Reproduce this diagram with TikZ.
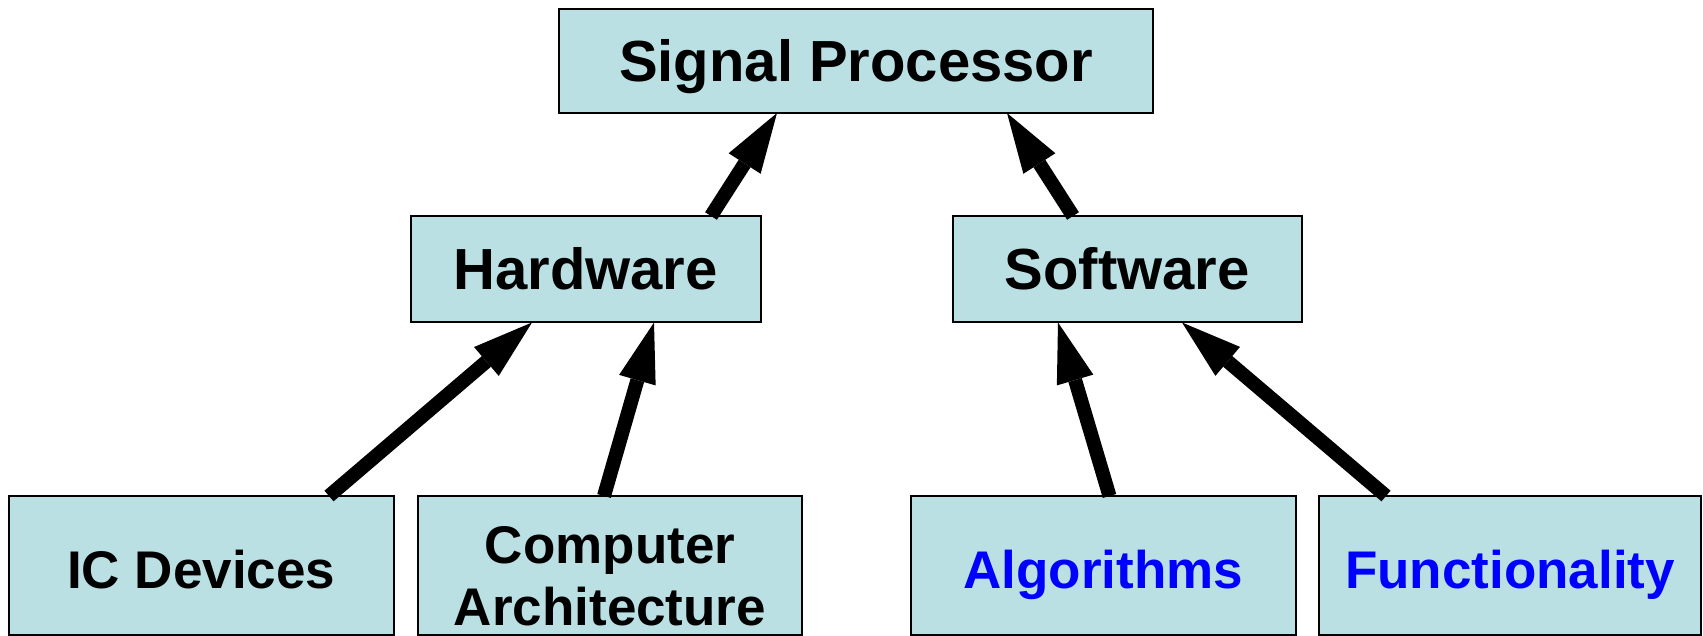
\documentclass[tikz,border=0pt]{standalone}
\usepackage{fontspec}
\setmainfont{Liberation Sans}
\usetikzlibrary{arrows.meta}
\definecolor{boxfill}{RGB}{187,224,227}
\definecolor{linkblue}{RGB}{0,0,255}

\begin{document}
\begin{tikzpicture}[x=1pt,y=-1pt,
  box/.style={draw=black, line width=2pt, fill=boxfill, inner sep=0pt, outer sep=0pt},
  upper/.style={box, font=\fontsize{58}{62}\selectfont\bfseries,
    text height=41.5pt, text depth=0pt, minimum height=106.5pt},
  lower/.style={box, font=\fontsize{53}{62}\selectfont\bfseries,
    text height=45pt, text depth=0pt, minimum height=139pt},
  twoline/.style={font=\fontsize{53}{62}\selectfont\bfseries, align=center, inner sep=0pt},
  link/.style={line width=14pt, draw=black,
    -{Triangle[length=60pt,width=38pt,line width=0pt]}}]

\useasboundingbox (0,0) rectangle (1703,636);

% top level
\node[upper, minimum width=594pt, minimum height=104pt] (sig) at (856,61) {Signal Processor};

% middle level
\node[upper, minimum width=350pt] (hw) at (585.5,269.25) {Hardware};
\node[upper, minimum width=349.5pt] (sw) at (1127.25,269.25) {Software};

% bottom level
\node[lower, minimum width=384.5pt] (ic) at (201.25,565.5) {IC Devices};
\node[lower, minimum width=384pt] (ca) at (610,565.5) {};
\node[twoline] (catext) at ([yshift=-11pt]ca.center) {Computer\\Architecture};
\node[lower, minimum width=384.5pt, text=linkblue] (alg) at (1103.25,565.5) {Algorithms};
\node[lower, minimum width=382pt, text=linkblue] (fn) at (1510,565.5) {Functionality};

% connectors
\draw[link] ([xshift=300.5pt]hw.north west) -- ([xshift=218pt]sig.south west);
\draw[link] ([xshift=120.5pt]sw.north west) -- ([xshift=448pt]sig.south west);
\draw[link] ([xshift=320pt]ic.north west) -- ([xshift=121.5pt]hw.south west);
\draw[link] ([xshift=186pt]ca.north west) -- ([xshift=243.5pt]hw.south west);
\draw[link] ([xshift=198.5pt]alg.north west) -- ([xshift=105.5pt]sw.south west);
\draw[link] ([xshift=67pt]fn.north west) -- ([xshift=229.5pt]sw.south west);
\end{tikzpicture}
\end{document}
